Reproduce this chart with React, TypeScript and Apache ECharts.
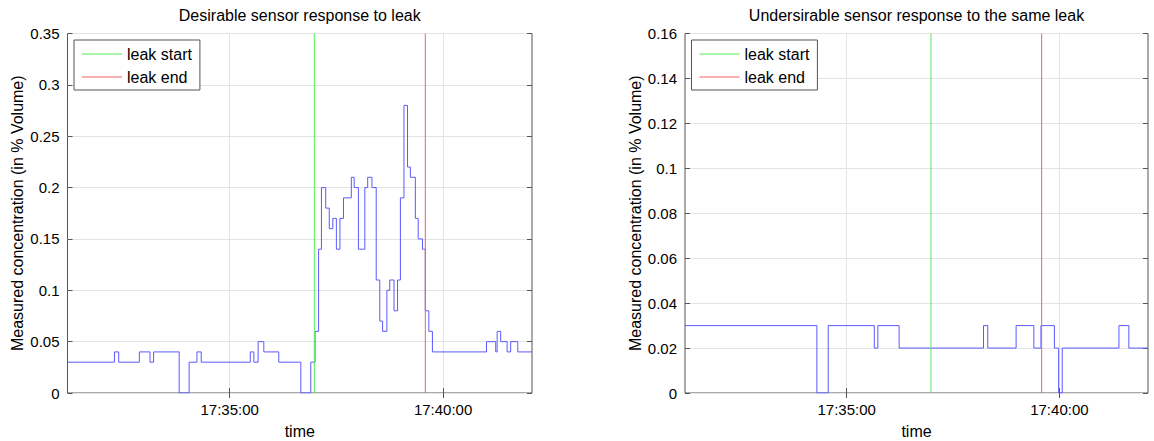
import React, { useEffect, useRef } from 'react';
import * as echarts from 'echarts';

const FONT = '"Liberation Sans", Arial, Helvetica, sans-serif';

// Shared time window and tick marks (clock times)
const axisStart = '17:31:12';
const axisEnd = '17:42:05';
const timeTicks = ['17:35:00', '17:40:00'];
const leakStart = '17:36:59';
const leakEnd = '17:39:35';

// Desirable sensor: each value is held from its time until the next one
const goodTimes = [
  '17:31:12', '17:32:18', '17:32:24', '17:32:53', '17:33:08', '17:33:13', '17:33:49', '17:34:03',
  '17:34:14', '17:34:20', '17:35:29', '17:35:34', '17:35:40', '17:35:48', '17:36:09', '17:36:40',
  '17:36:54', '17:37:00', '17:37:05', '17:37:09', '17:37:15', '17:37:20', '17:37:25', '17:37:30',
  '17:37:35', '17:37:40', '17:37:51', '17:37:55', '17:38:01', '17:38:10', '17:38:14', '17:38:20',
  '17:38:26', '17:38:31', '17:38:35', '17:38:41', '17:38:45', '17:38:51', '17:38:56', '17:39:00',
  '17:39:05', '17:39:10', '17:39:14', '17:39:21', '17:39:25', '17:39:31', '17:39:35', '17:39:40',
  '17:39:45', '17:41:01', '17:41:14', '17:41:16', '17:41:21', '17:41:30', '17:41:35', '17:41:45',
  '17:42:05',
];
const goodValues = [
  0.03, 0.04, 0.03, 0.04, 0.03, 0.04, 0, 0.03,
  0.04, 0.03, 0.04, 0.03, 0.05, 0.04, 0.03, 0,
  0.03, 0.06, 0.14, 0.2, 0.18, 0.16, 0.17, 0.14,
  0.17, 0.19, 0.21, 0.2, 0.14, 0.2, 0.21, 0.2,
  0.11, 0.07, 0.06, 0.1, 0.11, 0.08, 0.11, 0.19,
  0.28, 0.22, 0.21, 0.17, 0.15, 0.14, 0.08, 0.06,
  0.04, 0.05, 0.04, 0.06, 0.05, 0.04, 0.05, 0.04,
  0.04,
];

// Undesirable sensor
const badTimes = [
  '17:31:12', '17:34:18', '17:34:34', '17:35:39', '17:35:44', '17:36:14', '17:38:13', '17:38:19',
  '17:38:59', '17:39:24', '17:39:34', '17:39:53', '17:39:59', '17:40:04', '17:41:24', '17:41:38',
  '17:42:05',
];
const badValues = [
  0.03, 0, 0.03, 0.02, 0.03, 0.02, 0.03, 0.02,
  0.03, 0.02, 0.03, 0.02, 0, 0.02, 0.03, 0.02,
  0.02,
];

const toSec = (s: string) => {
  const [h, m, x] = s.split(':').map(Number);
  return h * 3600 + m * 60 + x;
};
const pad = (n: number) => String(n).padStart(2, '0');
const fmtTime = (v: number) => {
  const t = Math.round(v);
  return `${pad(Math.floor(t / 3600))}:${pad(Math.floor((t % 3600) / 60))}:${pad(t % 60)}`;
};

const BLUE = '#5a5aff';
const GREEN = '#55ee55';
const RED = '#f26262';
const FRAME = '#555555';
const GRIDC = '#e4e4e4';

type Panel = {
  title: string;
  left: number;
  width: number;
  yMax: number;
  yStep: number;
  times: string[];
  values: number[];
};

const panels: Panel[] = [
  { title: 'Desirable sensor response to leak', left: 67.5, width: 464.5, yMax: 0.35, yStep: 0.05, times: goodTimes, values: goodValues },
  { title: 'Undersirable sensor response to the same leak', left: 685, width: 463, yMax: 0.16, yStep: 0.02, times: badTimes, values: badValues },
];

const TOP = 33.5;
const HEIGHT = 359.5;

function buildOption() {
  const xMin = toSec(axisStart);
  const xMax = toSec(axisEnd);
  const tickVals = timeTicks.map(toSec);
  const grid: any[] = [];
  const xAxis: any[] = [];
  const yAxis: any[] = [];
  const series: any[] = [];
  const legend: any[] = [];
  const graphic: any[] = [];

  panels.forEach((p, i) => {
    grid.push({
      left: p.left, top: TOP, width: p.width, height: HEIGHT,
      show: true, borderColor: FRAME, borderWidth: 1, backgroundColor: '#fff',
      containLabel: false, outerBoundsMode: 'none',
    });
    xAxis.push({
      type: 'value', gridIndex: i, position: 'bottom', min: xMin, max: xMax,
      name: 'time', nameLocation: 'middle', nameGap: 30,
      nameTextStyle: { fontFamily: FONT, fontSize: 16, color: '#000' },
      axisLine: { show: false },
      axisTick: { show: true, inside: true, length: 5, customValues: tickVals, lineStyle: { color: FRAME } },
      axisLabel: {
        show: true, customValues: tickVals, margin: 9, formatter: (v: number) => fmtTime(v),
        fontFamily: FONT, fontSize: 15, color: '#000',
      },
      splitLine: { show: true, lineStyle: { color: GRIDC, width: 1 } },
    });
    xAxis.push({
      type: 'value', gridIndex: i, position: 'top', min: xMin, max: xMax,
      axisLine: { show: false },
      axisTick: { show: true, inside: true, length: 5, customValues: tickVals, lineStyle: { color: FRAME } },
      axisLabel: { show: false },
      splitLine: { show: false },
    });
    yAxis.push({
      type: 'value', gridIndex: i, position: 'left', min: 0, max: p.yMax, interval: p.yStep,
      name: 'Measured concentration (in % Volume)', nameLocation: 'middle', nameGap: 42, nameRotate: 90,
      nameTextStyle: { fontFamily: FONT, fontSize: 16, color: '#000' },
      axisLine: { show: false },
      axisTick: { show: true, inside: true, length: 5, lineStyle: { color: FRAME } },
      axisLabel: { margin: 8, fontFamily: FONT, fontSize: 15, color: '#000' },
      splitLine: { show: true, lineStyle: { color: GRIDC, width: 1 } },
    });
    yAxis.push({
      type: 'value', gridIndex: i, position: 'right', min: 0, max: p.yMax, interval: p.yStep,
      axisLine: { show: false },
      axisTick: { show: true, inside: true, length: 5, lineStyle: { color: FRAME } },
      axisLabel: { show: false },
      splitLine: { show: false },
    });

    const xIdx = i * 2;
    const yIdx = i * 2;
    series.push({
      name: 'sensor', type: 'line', xAxisIndex: xIdx, yAxisIndex: yIdx,
      step: 'end', symbol: 'none', silent: true,
      lineStyle: { color: BLUE, width: 1 },
      data: p.times.map((t, k) => [toSec(t), p.values[k]]),
    });
    series.push({
      name: 'leak start', type: 'line', xAxisIndex: xIdx, yAxisIndex: yIdx,
      symbol: 'none', silent: true, color: GREEN,
      lineStyle: { color: GREEN, width: 1 },
      data: [[toSec(leakStart), 0], [toSec(leakStart), p.yMax]],
    });
    series.push({
      name: 'leak end', type: 'line', xAxisIndex: xIdx, yAxisIndex: yIdx,
      symbol: 'none', silent: true, color: RED,
      lineStyle: { color: RED, width: 1 },
      data: [[toSec(leakEnd), 0], [toSec(leakEnd), p.yMax]],
    });

    legend.push({
      data: ['leak start', 'leak end'],
      left: p.left + 6.5, top: 40, orient: 'vertical',
      icon: 'rect', itemWidth: 40, itemHeight: 1, itemGap: 5,
      padding: [5, 8, 4, 8],
      borderColor: FRAME, borderWidth: 1, backgroundColor: '#fff',
      selectedMode: false,
      textStyle: { fontFamily: FONT, fontSize: 16, color: '#000', lineHeight: 18 },
    });

    graphic.push({
      type: 'text', x: p.left + p.width / 2, y: 15,
      style: { text: p.title, align: 'center', verticalAlign: 'middle', fontFamily: FONT, fontSize: 16, fill: '#000' },
    });
  });

  return { animation: false, grid, xAxis, yAxis, series, legend, graphic };
}

export default function App() {
  const ref = useRef<HTMLDivElement>(null);
  useEffect(() => {
    if (!ref.current) return;
    const chart = echarts.init(ref.current, undefined, { renderer: 'svg' });
    chart.setOption(buildOption() as any);
    return () => chart.dispose();
  }, []);
  return (
    <div
      ref={ref}
      style={{ position: 'absolute', left: 0, top: 0, width: 1154, height: 441, background: '#fff' }}
    />
  );
}
